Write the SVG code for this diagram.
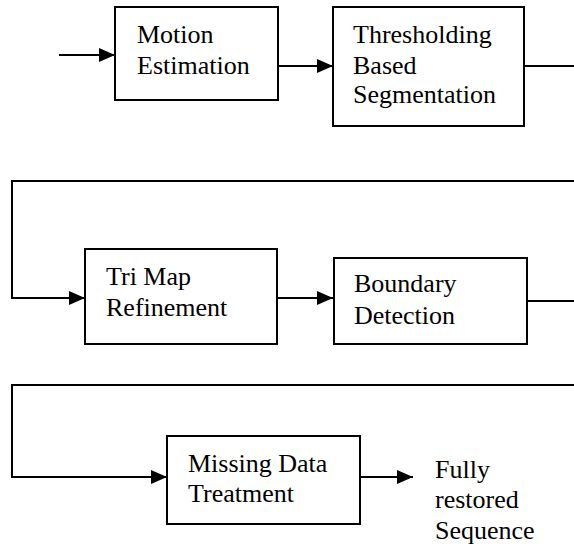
<svg xmlns="http://www.w3.org/2000/svg" width="574" height="546" viewBox="0 0 574 546">
<style>
.box{fill:#fff;stroke:#000;stroke-width:2}
.ln{fill:none;stroke:#000;stroke-width:2}
.t{font-family:'Liberation Serif','Times New Roman',Times,'DejaVu Serif',serif;font-size:26px;fill:#000}
</style>
<defs>
<marker id="ah" markerWidth="16" markerHeight="14" refX="16" refY="7" orient="auto" markerUnits="userSpaceOnUse">
<path d="M0,0 L16,7 L0,14 Z" fill="#000"/>
</marker>
</defs>
<rect width="574" height="546" fill="#fff"/>
<g id="connectors">
<line class="ln" x1="59" y1="55" x2="115" y2="55" marker-end="url(#ah)"/>
<line class="ln" x1="278" y1="66" x2="333" y2="66" marker-end="url(#ah)"/>
<line class="ln" x1="524" y1="66" x2="574" y2="66"/>
<polyline class="ln" points="574,181 12,181 12,298 85,298" marker-end="url(#ah)"/>
<line class="ln" x1="277" y1="298" x2="333" y2="298" marker-end="url(#ah)"/>
<line class="ln" x1="527" y1="301" x2="574" y2="301"/>
<polyline class="ln" points="574,385 12,385 12,477 167,477" marker-end="url(#ah)"/>
<line class="ln" x1="360" y1="477" x2="413" y2="477" marker-end="url(#ah)"/>
</g>
<g id="motion">
<rect class="box" x="115" y="7" width="163" height="93"/>
<text class="t" font-family="Liberation Serif, serif" x="137" y="43">Motion</text>
<text class="t" font-family="Liberation Serif, serif" x="137" y="74">Estimation</text>
</g>
<g id="threshold">
<rect class="box" x="333" y="7" width="191" height="119"/>
<text class="t" font-family="Liberation Serif, serif" x="353" y="43">Thresholding</text>
<text class="t" font-family="Liberation Serif, serif" x="353" y="74">Based</text>
<text class="t" font-family="Liberation Serif, serif" x="353" y="103">Segmentation</text>
</g>
<g id="trimap">
<rect class="box" x="85" y="249" width="192" height="95"/>
<text class="t" font-family="Liberation Serif, serif" x="106" y="285">Tri Map</text>
<text class="t" font-family="Liberation Serif, serif" x="106" y="316">Refinement</text>
</g>
<g id="boundary">
<rect class="box" x="334" y="258" width="193" height="86"/>
<text class="t" font-family="Liberation Serif, serif" x="354" y="292">Boundary</text>
<text class="t" font-family="Liberation Serif, serif" x="354" y="324">Detection</text>
</g>
<g id="missing">
<rect class="box" x="167" y="436" width="193" height="88"/>
<text class="t" font-family="Liberation Serif, serif" x="188" y="472">Missing Data</text>
<text class="t" font-family="Liberation Serif, serif" x="188" y="502">Treatment</text>
</g>
<g id="output">
<text class="t" font-family="Liberation Serif, serif" x="435" y="478">Fully</text>
<text class="t" font-family="Liberation Serif, serif" x="435" y="508">restored</text>
<text class="t" font-family="Liberation Serif, serif" x="435" y="539">Sequence</text>
</g>
</svg>
